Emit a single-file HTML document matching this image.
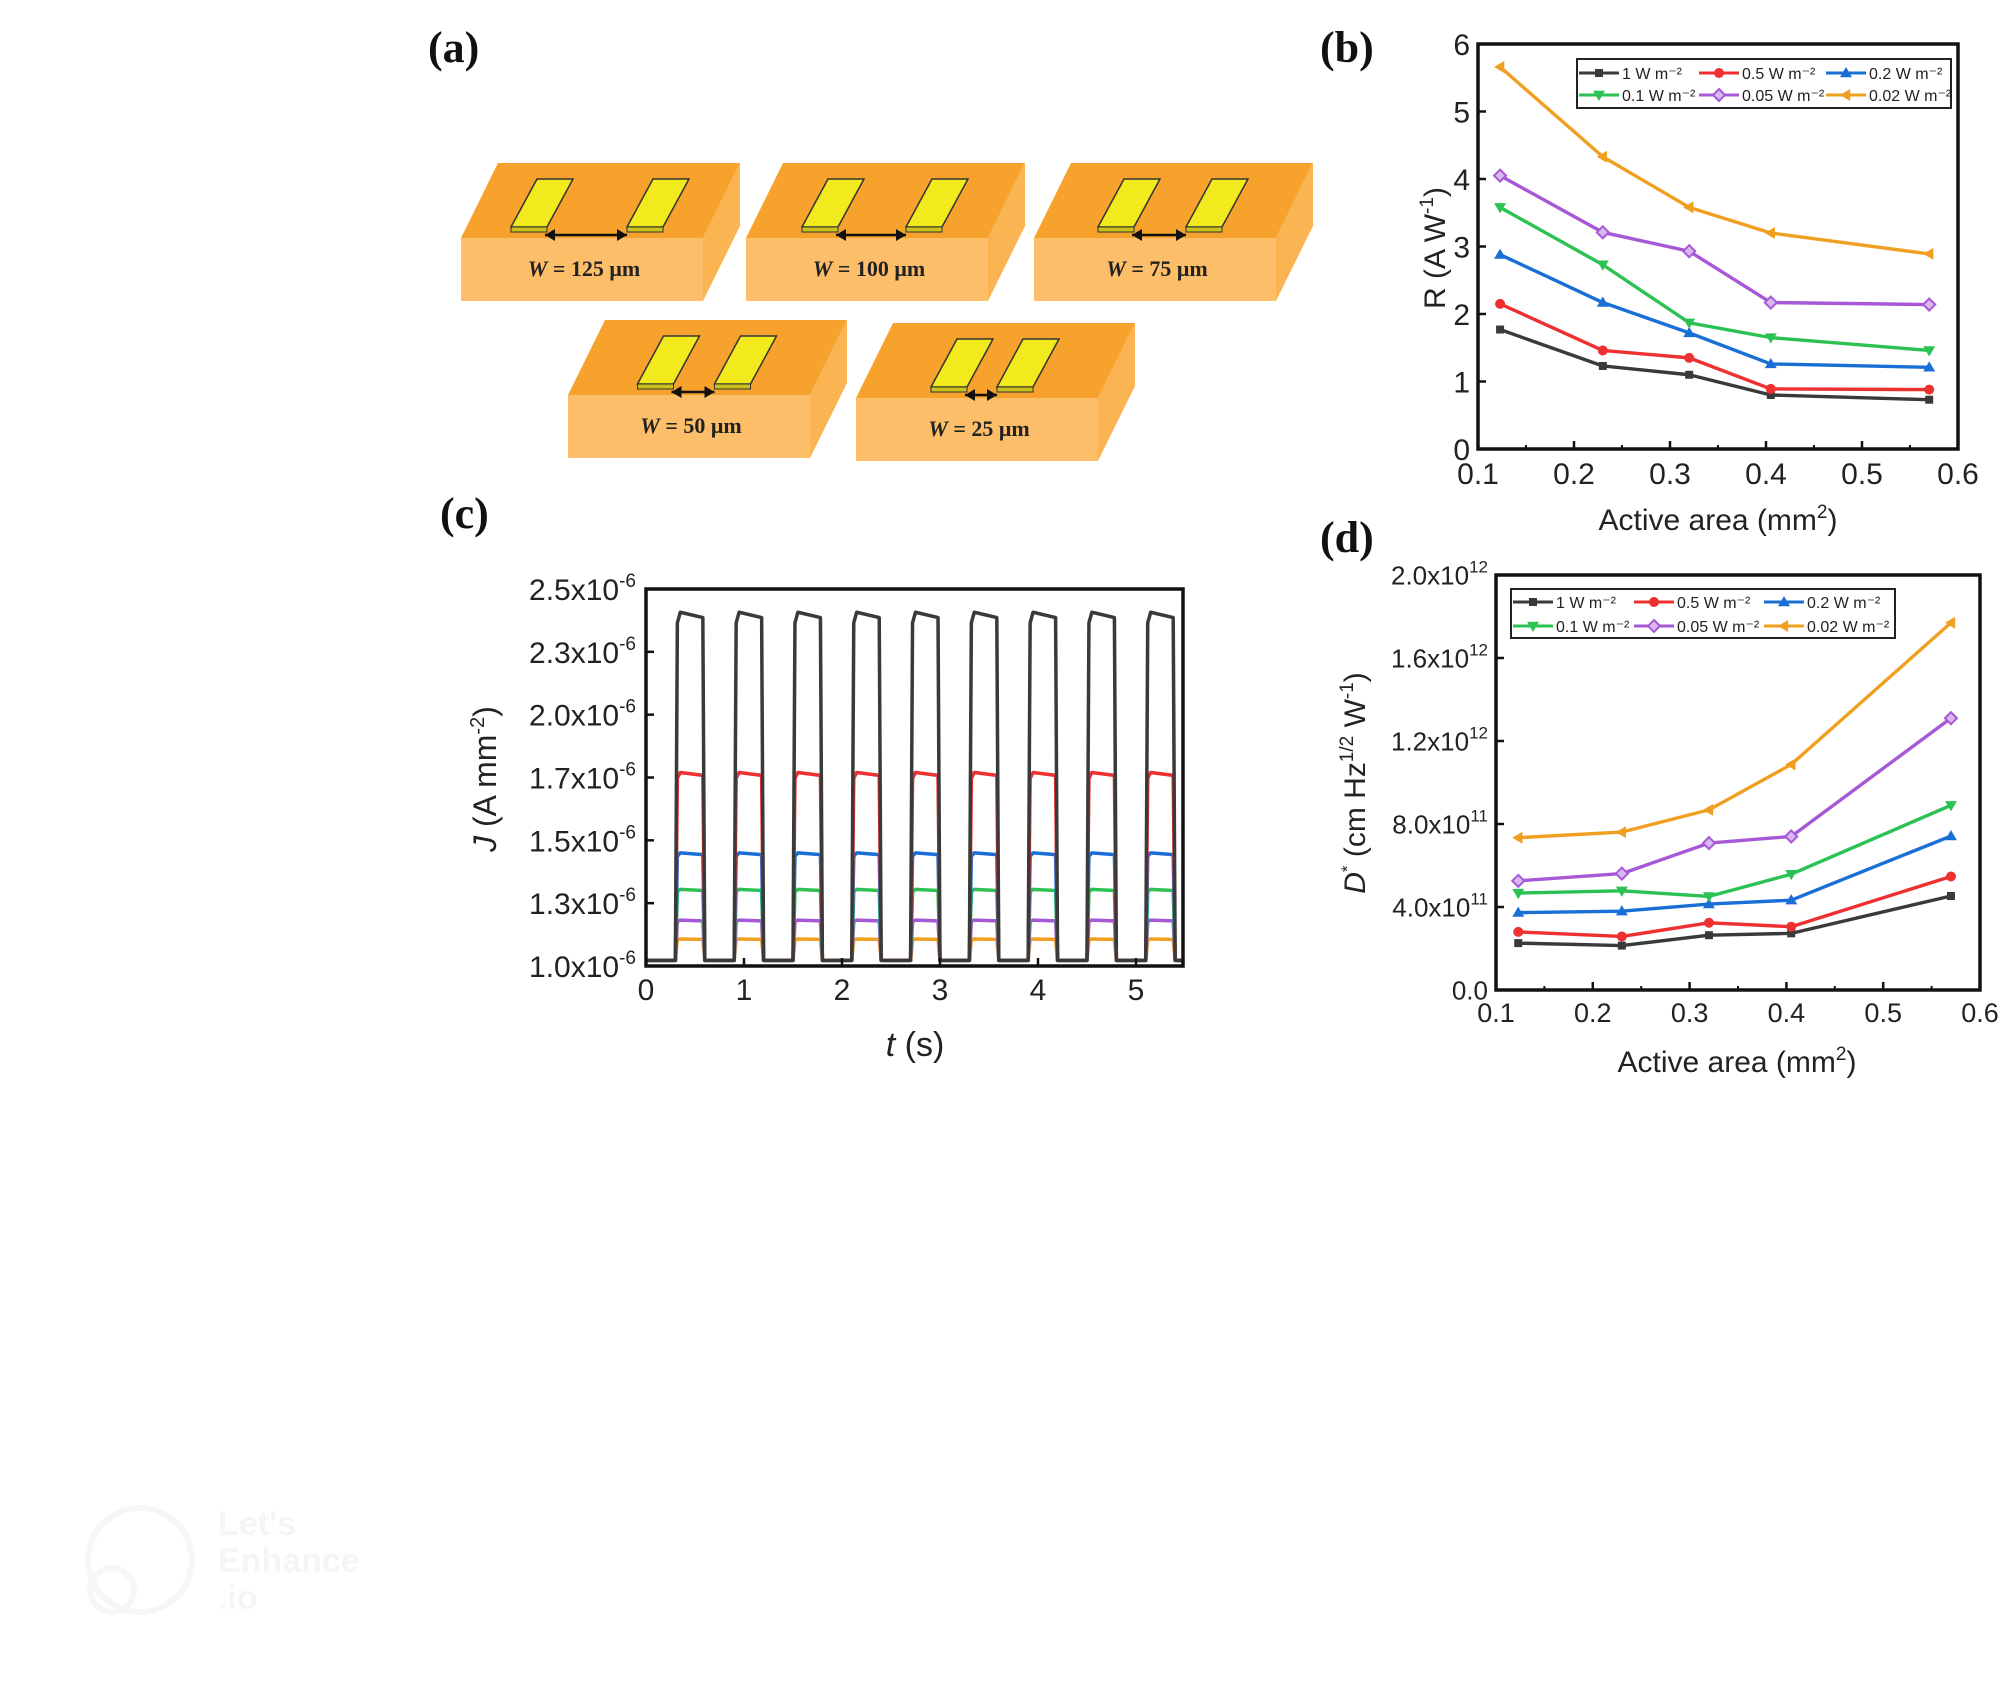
<!DOCTYPE html>
<html><head><meta charset="utf-8"><style>
html,body{margin:0;padding:0;background:#fff;}
svg{display:block;font-family:"Liberation Sans",sans-serif;}
.pl{font-family:"Liberation Serif",serif;font-weight:bold;font-size:44px;fill:#111;}
</style></head><body>
<svg id="fig" width="2000" height="1701" viewBox="0 0 2000 1701">
<g id="pa"></g>
<g id="pb"></g>
<g id="pc"></g>
<g id="pd"></g>
<text class="pl" x="428" y="62">(a)</text>
<text class="pl" x="1320" y="62">(b)</text>
<text class="pl" x="440" y="528">(c)</text>
<text class="pl" x="1320" y="552">(d)</text>
<g opacity="0.35">
<circle cx="140" cy="1560" r="52" fill="none" stroke="#e6e6e6" stroke-width="6"/>
<circle cx="112" cy="1590" r="22" fill="none" stroke="#e6e6e6" stroke-width="6"/>
<text x="218" y="1535" font-size="34" font-weight="bold" fill="#e3e3e3">Let's</text>
<text x="218" y="1572" font-size="34" font-weight="bold" fill="#e3e3e3">Enhance</text>
<text x="218" y="1609" font-size="34" font-weight="bold" fill="#e3e3e3">.io</text>
</g>
</svg>
<script>
const NS='http://www.w3.org/2000/svg';
function mk(tag,attrs,parent){const e=document.createElementNS(NS,tag);for(const k in attrs)e.setAttribute(k,attrs[k]);if(parent)parent.appendChild(e);return e;}

// ---------- Panel (a) ----------
const widths=['125','100','75','50','25'];
const blockX=[461,746,1034,568,856];
const blockY=[238,238,238,395,398];
const gaps=[82,70,54,43,32];
const pa=document.getElementById('pa');
for(let i=0;i<widths.length;i++){
  const fx=blockX[i],ft=blockY[i],w=242,h=63,dx=37,dy=75;
  const g=mk('g',{},pa);
  
  
  mk('polygon',{points:`${fx},${ft} ${fx+dx},${ft-dy} ${fx+w+dx},${ft-dy} ${fx+w},${ft}`,fill:'#F6A22C'},g);
  mk('polygon',{points:`${fx+w},${ft} ${fx+w+dx},${ft-dy} ${fx+w+dx},${ft-dy+h} ${fx+w},${ft+h}`,fill:'#FAB451'},g);
  mk('rect',{x:fx,y:ft,width:w,height:h,fill:'#FDBE69'},g);
  const cx=fx+125,gap=gaps[i],ay=ft-3;
  [[cx-gap/2-34,0],[cx+gap/2,1]].forEach(([bx])=>{
    const ex=bx,ey=ay-8;
    mk('polygon',{points:`${ex},${ey} ${ex+26},${ey-48} ${ex+62},${ey-48} ${ex+36},${ey} `,fill:'#F3EA1E',stroke:'#333','stroke-width':1.5},g);
    mk('polygon',{points:`${ex},${ey} ${ex+36},${ey} ${ex+36},${ey+5} ${ex},${ey+5}`,fill:'#C9C21A',stroke:'#333','stroke-width':1},g);
  });
  mk('line',{x1:cx-gap/2,y1:ay,x2:cx+gap/2,y2:ay,stroke:'#111','stroke-width':2.5},g);
  mk('polygon',{points:`${cx-gap/2},${ay} ${cx-gap/2+10},${ay-6} ${cx-gap/2+10},${ay+6}`,fill:'#111'},g);
  mk('polygon',{points:`${cx+gap/2},${ay} ${cx+gap/2-10},${ay-6} ${cx+gap/2-10},${ay+6}`,fill:'#111'},g);
  const t=mk('text',{x:cx-2,y:ft+38,'text-anchor':'middle','font-family':'Liberation Serif, serif','font-weight':'bold','font-size':22,fill:'#222'},g);
  
  
  t.innerHTML='<tspan font-style="italic">W</tspan> = '+widths[i]+' μm';
}

// ---------- shared line chart ----------
const seriesNames=['1 W m⁻²','0.5 W m⁻²','0.2 W m⁻²','0.1 W m⁻²','0.05 W m⁻²','0.02 W m⁻²'];
const colors=['#3a3a3a','#ee3030','#1a6fd6','#2bc253','#a758d6','#f0a020'];
const areaX=[0.123,0.23,0.32,0.405,0.57];
const xTicks=[0.1,0.2,0.3,0.4,0.5,0.6];

const respBlack=[1.77,1.23,1.10,0.80,0.73];
const respRed=[2.15,1.46,1.35,0.89,0.88];
const respBlue=[2.88,2.17,1.72,1.26,1.21];
const respGreen=[3.58,2.73,1.87,1.65,1.46];
const respPurple=[4.05,3.21,2.93,2.17,2.14];
const respOrange=[5.66,4.33,3.58,3.20,2.89];
const respTicks=[0,1,2,3,4,5,6];

const detBlack=[2.26,2.14,2.64,2.73,4.53];
const detRed=[2.80,2.58,3.24,3.05,5.47];
const detBlue=[3.73,3.80,4.14,4.33,7.42];
const detGreen=[4.67,4.78,4.51,5.58,8.90];
const detPurple=[5.26,5.61,7.08,7.40,13.1];
const detOrange=[7.34,7.61,8.68,10.87,17.7];
const detTicks=[0,4,8,12,16,20];
const detTickLabels=['0.0','4.0x10<tspan dy="-12" font-size="17">11</tspan>','8.0x10<tspan dy="-12" font-size="17">11</tspan>','1.2x10<tspan dy="-12" font-size="17">12</tspan>','1.6x10<tspan dy="-12" font-size="17">12</tspan>','2.0x10<tspan dy="-12" font-size="17">12</tspan>'];

function marker(g,shape,x,y,c){
  const s=6;
  if(shape===0)return mk('rect',{x:x-4,y:y-4,width:8,height:8,fill:c},g);
  if(shape===1)return mk('circle',{cx:x,cy:y,r:5,fill:c},g);
  if(shape===2)return mk('polygon',{points:`${x},${y-s} ${x+s},${y+s*0.7} ${x-s},${y+s*0.7}`,fill:c},g);
  if(shape===3)return mk('polygon',{points:`${x},${y+s} ${x+s},${y-s*0.7} ${x-s},${y-s*0.7}`,fill:c},g);
  if(shape===4)return mk('polygon',{points:`${x},${y-s} ${x+s},${y} ${x},${y+s} ${x-s},${y}`,fill:'#d9b8f0',stroke:c,'stroke-width':2},g);
  return mk('polygon',{points:`${x-s},${y} ${x+s*0.7},${y-s} ${x+s*0.7},${y+s}`,fill:c},g);
}

function lineChart(gid,o){
  const g=document.getElementById(gid);
  const sx=v=>o.L+(v-o.x0)/(o.x1-o.x0)*(o.R-o.L);
  const sy=v=>o.B-(v-o.y0)/(o.y1-o.y0)*(o.B-o.T);
  o.series.forEach((s,k)=>{
    const sg=mk('g',{},g);
    
    
    const pts=s.map((v,i)=>sx(areaX[i])+','+sy(v)).join(' ');
    mk('polyline',{points:pts,fill:'none',stroke:colors[k],'stroke-width':3.4,'stroke-linejoin':'round'},sg);
    s.forEach((v,i)=>{const m=marker(sg,k,sx(areaX[i]),sy(v),colors[k]);
      
      });
  });
  const ax=mk('rect',{x:o.L,y:o.T,width:o.R-o.L,height:o.B-o.T,fill:'none',stroke:'#111','stroke-width':3.5},g);
  
  
  xTicks.forEach(t=>{
    const x=sx(t);
    mk('line',{x1:x,y1:o.B,x2:x,y2:o.B-8,stroke:'#111','stroke-width':2.5},g);
    const tx=mk('text',{x:x,y:o.xly,'text-anchor':'middle','font-size':o.fs,fill:'#222'},g);
    tx.textContent=t.toFixed(1);
    
    
    if(t<0.6){const xm=sx(t+0.05);mk('line',{x1:xm,y1:o.B,x2:xm,y2:o.B-4,stroke:'#111','stroke-width':2},g);}
  });
  o.yTicks.forEach((t,i)=>{
    const y=sy(t);
    mk('line',{x1:o.L,y1:y,x2:o.L+8,y2:y,stroke:'#111','stroke-width':2.5},g);
    const tx=mk('text',{x:o.L-8,y:y+o.fs*0.36,'text-anchor':'end','font-size':o.yfs,fill:'#222'},g);
    tx.innerHTML=o.yLabels?o.yLabels[i]:String(t);
    
    
  });
  const lg=mk('g',{},g);
  
  
  mk('rect',{x:o.lx,y:o.ly,width:o.lw,height:o.lh,fill:'#fff',stroke:'#222','stroke-width':2},lg);
  seriesNames.forEach((n,k)=>{
    const cx=o.lcols[k%3],cy=o.lrows[Math.floor(k/3)];
    const e=mk('g',{},lg);
    
    
    mk('line',{x1:cx,y1:cy,x2:cx+40,y2:cy,stroke:colors[k],'stroke-width':3},e);
    marker(e,k,cx+20,cy,colors[k]);
    const t=mk('text',{x:cx+43,y:cy+6,'font-size':16,fill:'#222'},e);
    t.textContent=n;
  });
}

lineChart('pb',{L:1478,R:1958,T:44,B:449,x0:0.1,x1:0.6,y0:0,y1:6,prefix:'resp',
  series:[respBlack,respRed,respBlue,respGreen,respPurple,respOrange],
  yTicks:respTicks,fs:30,yfs:30,xly:484,lx:1577,ly:59,lw:374,lh:49,lcols:[1579,1699,1826],lrows:[73,95]});
lineChart('pd',{L:1496,R:1980,T:575,B:990,x0:0.1,x1:0.6,y0:0,y1:20,prefix:'det',
  series:[detBlack,detRed,detBlue,detGreen,detPurple,detOrange],
  yTicks:detTicks,yLabels:detTickLabels,fs:27,yfs:26,xly:1022,lx:1511,ly:589,lw:384,lh:49,lcols:[1513,1634,1764],lrows:[602,626]});

(function(){
  const f=document.getElementById('fig');
  let t=mk('text',{x:1718,y:530,'text-anchor':'middle','font-size':30,fill:'#222'},f);
  t.innerHTML='Active area (mm<tspan dy="-12" font-size="19">2</tspan><tspan dy="12">)</tspan>';
  
  
  t=mk('text',{x:0,y:0,'text-anchor':'middle','font-size':30,fill:'#222',transform:'translate(1445,248) rotate(-90)'},f);
  t.innerHTML='R (A W<tspan dy="-12" font-size="19">-1</tspan><tspan dy="12">)</tspan>';
  
  
  t=mk('text',{x:1737,y:1072,'text-anchor':'middle','font-size':30,fill:'#222'},f);
  t.innerHTML='Active area (mm<tspan dy="-12" font-size="19">2</tspan><tspan dy="12">)</tspan>';
  
  
  t=mk('text',{x:0,y:0,'text-anchor':'middle','font-size':30,fill:'#222',transform:'translate(1365,783) rotate(-90)'},f);
  t.innerHTML='<tspan font-style="italic">D</tspan><tspan dy="-12" font-size="17">*</tspan><tspan dy="12"> (cm Hz</tspan><tspan dy="-12" font-size="19">1/2</tspan><tspan dy="12"> W</tspan><tspan dy="-12" font-size="19">-1</tspan><tspan dy="12">)</tspan>';
  
  
})();

// ---------- Panel (c) ----------
const cTickLabels=['1.0','1.3','1.5','1.7','2.0','2.3','2.5'];
const cXTicks=[0,1,2,3,4,5];
const pulseStarts=[0.30,0.90,1.50,2.10,2.70,3.30,3.90,4.50,5.10];
const pulseWidth=0.30;
const onLevels=[5.63,3.08,1.80,1.22,0.73,0.43];
const baseLevel=0.09;
(function(){
  const g=document.getElementById('pc');
  const L=646,R=1183,T=589,B=966,x0=0,x1=5.48,y0=0,y1=6;
  const sx=v=>L+(v-x0)/(x1-x0)*(R-L);
  const sy=v=>B-(v-y0)/(y1-y0)*(B-T);
  for(let k=onLevels.length-1;k>=0;k--){
    let d='M'+sx(0)+','+sy(baseLevel);
    pulseStarts.forEach(s=>{
      d+=' L'+sx(s)+','+sy(baseLevel)+' L'+sx(s+0.02)+','+sy(onLevels[k]*0.97)+' L'+sx(s+0.05)+','+sy(onLevels[k])+' L'+sx(s+pulseWidth-0.02)+','+sy(onLevels[k]*0.985)+' L'+sx(s+pulseWidth)+','+sy(baseLevel);
    });
    d+=' L'+sx(5.48)+','+sy(baseLevel);
    const p=mk('path',{d:d,fill:'none',stroke:colors[k],'stroke-width':3.5,'stroke-linejoin':'round'},g);
    
    
  }
  mk('rect',{x:L,y:T,width:R-L,height:B-T,fill:'none',stroke:'#111','stroke-width':3.5},g);
  cXTicks.forEach(t=>{
    mk('line',{x1:sx(t),y1:B,x2:sx(t),y2:B-8,stroke:'#111','stroke-width':2.5},g);
    const tx=mk('text',{x:sx(t),y:B+34,'text-anchor':'middle','font-size':30,fill:'#222'},g);
    tx.textContent=t;
    
    
  });
  cTickLabels.forEach((lab,i)=>{
    const y=sy(i);
    mk('line',{x1:L,y1:y,x2:L+8,y2:y,stroke:'#111','stroke-width':2.5},g);
    const tx=mk('text',{x:L-10,y:y+11,'text-anchor':'end','font-size':30,fill:'#222'},g);
    tx.innerHTML=lab+'x10<tspan dy="-13" font-size="19">-6</tspan>';
    
    
  });
  let t=mk('text',{x:915,y:1056,'text-anchor':'middle','font-size':34,fill:'#222'},g);
  t.innerHTML='<tspan font-style="italic">t</tspan> (s)';
  
  
  t=mk('text',{x:0,y:0,'text-anchor':'middle','font-size':32,fill:'#222',transform:'translate(496,779) rotate(-90)'},g);
  t.innerHTML='<tspan font-style="italic">J</tspan> (A mm<tspan dy="-12" font-size="20">-2</tspan><tspan dy="12">)</tspan>';
  
  
})();
</script>
</body></html>
